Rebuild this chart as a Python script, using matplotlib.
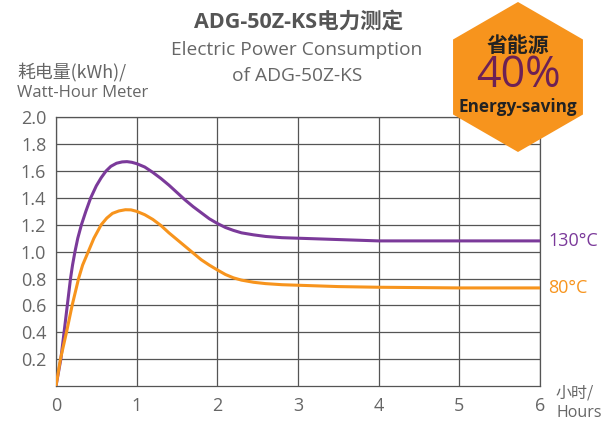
import matplotlib
matplotlib.use("Agg")
import matplotlib.pyplot as plt
from matplotlib.patches import RegularPolygon

# ---- data ----
x_130 = [0, 0.03, 0.06, 0.1, 0.14, 0.18, 0.205, 0.235, 0.27, 0.315, 0.37, 0.43, 0.5, 0.56,
         0.62, 0.68, 0.75, 0.82, 0.88, 0.94, 1.0, 1.1, 1.2, 1.3, 1.4, 1.5, 1.6, 1.7,
         1.8, 1.9, 2.0, 2.1, 2.2, 2.3, 2.45, 2.6, 2.8, 3.0, 3.5, 4.0, 5.0, 6.0]
y_130 = [0, 0.1, 0.2, 0.4, 0.6, 0.8, 0.9, 1.0, 1.1, 1.2, 1.3, 1.4, 1.49, 1.55,
         1.6, 1.635, 1.658, 1.668, 1.67, 1.665, 1.655, 1.63, 1.59, 1.545, 1.495, 1.44, 1.385, 1.335,
         1.29, 1.245, 1.21, 1.18, 1.158, 1.14, 1.125, 1.113, 1.104, 1.10, 1.09, 1.08, 1.08, 1.08]

x_80 = [0, 0.055, 0.13, 0.2, 0.28, 0.33, 0.4, 0.47, 0.56, 0.63, 0.7, 0.78, 0.86, 0.93,
        1.0, 1.1, 1.2, 1.3, 1.4, 1.5, 1.6, 1.7, 1.8, 1.9, 2.0, 2.1, 2.2, 2.3, 2.45,
        2.6, 2.8, 3.0, 3.5, 4.0, 5.0, 6.0]
y_80 = [0, 0.2, 0.4, 0.6, 0.8, 0.9, 1.0, 1.1, 1.2, 1.25, 1.285, 1.303, 1.312, 1.311,
        1.30, 1.275, 1.24, 1.195, 1.14, 1.09, 1.04, 0.99, 0.94, 0.90, 0.864, 0.83, 0.805, 0.788, 0.772,
        0.762, 0.754, 0.75, 0.74, 0.735, 0.73, 0.73]

x_ticks = [0, 1, 2, 3, 4, 5, 6]
y_ticks = [0.2, 0.4, 0.6, 0.8, 1.0, 1.2, 1.4, 1.6, 1.8, 2.0]
series_labels = ["130°C", "80°C"]

PURPLE = "#7b3a9a"
ORANGE = "#f7941d"
GRID = "#555555"
TXT = "#666666"
LAT = ["Open Sans", "Noto Sans CJK SC", "DejaVu Sans"]
CJK = ["Noto Sans CJK SC", "DejaVu Sans"]

W, H = 601, 425
fig = plt.figure(figsize=(W / 100, H / 100), dpi=100)

L, R, T, B = 56, 540, 117.3, 386
ax = fig.add_axes([L / W, 1 - B / H, (R - L) / W, (B - T) / H])
ax.plot(x_130, y_130, color=PURPLE, lw=2.2, solid_capstyle="round",
        solid_joinstyle="round", zorder=3)
ax.plot(x_80, y_80, color=ORANGE, lw=2.2, solid_capstyle="round",
        solid_joinstyle="round", zorder=3)
ax.set_xlim(0, 6)
ax.set_ylim(0, 2.0)
ax.set_xticks(x_ticks)
ax.set_yticks(y_ticks)
ax.set_xticklabels([str(v) for v in x_ticks])
ax.set_yticklabels([f"{v:.1f}" for v in y_ticks])
ax.grid(True, color=GRID, lw=0.9)
ax.set_axisbelow(True)
for s in ax.spines.values():
    s.set_color(GRID)
    s.set_linewidth(0.9)
ax.tick_params(length=0, pad=7, labelsize=13, labelcolor=TXT)
for lab in ax.get_xticklabels() + ax.get_yticklabels():
    lab.set_fontfamily(LAT)
ax.tick_params(axis="x", pad=8)

ax.text(6.1, y_130[-1], series_labels[0], color=PURPLE, fontsize=13, family=LAT,
        va="center", ha="left")
ax.text(6.1, y_80[-1], series_labels[1], color=ORANGE, fontsize=13, family=LAT,
        va="center", ha="left")

# overlay in pixel coordinates
ov = fig.add_axes([0, 0, 1, 1], zorder=10)
ov.set_xlim(0, W)
ov.set_ylim(H, 0)
ov.axis("off")
ov.patch.set_alpha(0)

ov.text(299, 22, "ADG-50Z-KS电力测定", ha="center", va="center", fontsize=15.5,
        fontweight="bold", color="#555555", family=LAT)
ov.text(297, 50, "Electric Power Consumption", ha="center", va="center", fontsize=13.8,
        color=TXT, family=LAT)
ov.text(297, 76, "of ADG-50Z-KS", ha="center", va="center", fontsize=13.8,
        color=TXT, family=LAT)
ov.text(17, 72, "耗电量(kWh)/", ha="left", va="center", fontsize=12.9,
        color=TXT, family=CJK)
ov.text(17, 93, "Watt-Hour Meter", ha="left", va="center", fontsize=12,
        color=TXT, family=LAT)
ov.text(556, 393, "小时/", ha="left", va="center", fontsize=11.5, color=TXT, family=CJK)
ov.text(556, 413, "Hours", ha="left", va="center", fontsize=11.5, color=TXT, family=LAT)

hexa = RegularPolygon((518, 77), numVertices=6, radius=75, orientation=0,
                      facecolor="#f7941d", edgecolor="none")
ov.add_patch(hexa)
ov.text(518, 45, "省能源", ha="center", va="center", fontsize=15, fontweight="bold",
        color="#222222", family=CJK)
ov.text(518, 76, "40%", ha="center", va="center", fontsize=31, fontweight="medium",
        color="#6d2155", family=LAT)
ov.text(518, 107, "Energy-saving", ha="center", va="center", fontsize=12.3,
        fontweight="bold", color="#222222", family=LAT)

fig.savefig("out.png", dpi=100)
